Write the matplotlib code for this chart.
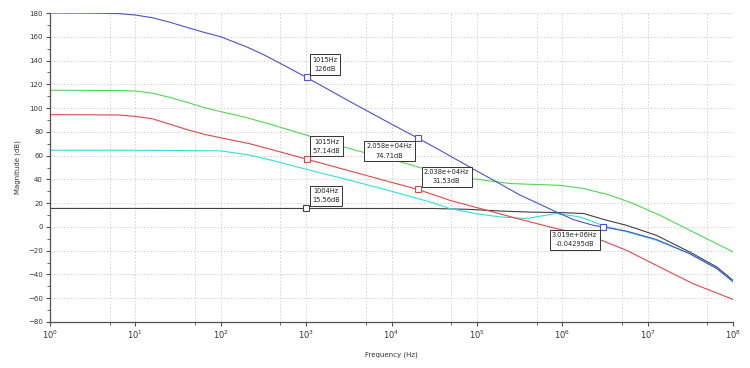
import numpy as np
import matplotlib
matplotlib.use("Agg")
import matplotlib.pyplot as plt
from matplotlib.ticker import FixedLocator, MultipleLocator, NullFormatter, LogFormatterMathtext

# curves: log10(frequency) and magnitude in dB
blue_exp = [0.0, 0.5, 0.8, 1.0, 1.2, 1.4, 1.6, 1.8, 2.0, 2.3, 2.5, 2.7, 3.0, 3.5, 4.0, 4.31,
            4.6, 5.0, 5.23, 5.5, 5.93, 6.13, 6.36, 6.48, 6.75, 7.1, 7.49, 7.81, 8.0]
blue_db = [180.0, 179.9, 179.5, 178.3, 176.0, 172.3, 168.0, 163.8, 160.0, 151.6, 145.0, 137.5,
           126.0, 106.0, 86.5, 74.7, 63.2, 47.0, 37.9, 27.0, 12.6, 6.2, 1.4, 0.0, -3.5, -10.5,
           -22.4, -35.0, -46.0]

green_exp = [0.0, 0.8, 1.0, 1.2, 1.4, 1.6, 1.8, 2.0, 2.3, 2.6, 3.0, 3.5, 4.1, 4.5, 4.92,
             5.39, 5.97, 6.25, 6.56, 6.83, 7.14, 7.53, 8.0]
green_db = [115.0, 114.8, 114.4, 112.5, 109.0, 105.0, 100.5, 97.0, 92.0, 86.0, 77.3, 66.0,
            54.8, 46.5, 40.8, 36.5, 35.0, 32.3, 26.7, 19.7, 9.9, -4.2, -21.0]

red_exp = [0.0, 0.8, 1.0, 1.2, 1.4, 1.6, 1.8, 2.0, 2.34, 2.6, 3.0, 3.5, 4.0, 4.31, 4.7,
           5.19, 5.5, 5.93, 6.36, 6.75, 7.14, 7.53, 8.0]
red_db = [94.5, 94.2, 93.0, 91.0, 86.5, 82.0, 78.0, 75.0, 70.0, 65.0, 57.1, 47.3, 37.5,
          31.5, 22.0, 12.6, 6.5, -1.4, -8.4, -19.6, -33.7, -47.7, -61.0]

cyan_exp = [0.0, 1.0, 2.0, 2.34, 2.6, 3.0, 3.5, 4.0, 4.5, 4.68, 5.0, 5.27, 5.58, 5.93, 6.21,
            6.5, 6.75, 7.1, 7.49, 7.81, 8.0]
cyan_db = [64.5, 64.5, 64.0, 60.4, 56.0, 48.5, 39.5, 30.0, 20.0, 15.5, 11.0, 8.4, 7.1, 11.3,
           8.4, 0.6, -4.0, -11.2, -22.4, -35.0, -46.0]

black_exp = [0.0, 4.5, 4.9, 5.3, 5.66, 5.97, 6.25, 6.5, 6.75, 7.1, 7.49, 7.81, 8.0]
black_db = [15.56, 15.5, 14.8, 13.3, 12.4, 12.1, 11.3, 6.0, 1.4, -7.0, -21.0, -33.7, -45.0]

x_decades = [0, 1, 2, 3, 4, 5, 6, 7, 8]

# datatips: frequency, dB, label, colour, placement
tip_freq = [1015, 1015, 1004, 2.058e4, 2.038e4, 3.019e6]
tip_db = [126.0, 57.14, 15.56, 74.71, 31.53, -0.04295]
tip_text = ["1015Hz\n126dB", "1015Hz\n57.14dB", "1004Hz\n15.56dB",
            "2.058e+04Hz\n74.71dB", "2.038e+04Hz\n31.53dB", "3.019e+06Hz\n-0.04295dB"]
tip_color = ["#4f4fd8", "#e04848", "#404040", "#4f4fd8", "#e04848", "#4f4fd8"]
tip_side = ["ur", "ur", "ur", "ll", "ur", "ll"]

fig = plt.figure(figsize=(7.5, 3.68), dpi=100)
ax = fig.add_axes([50 / 750, 1 - 322 / 368, 683 / 750, 309 / 368])

curves = [
    (black_exp, black_db, "#404040"),
    (cyan_exp, cyan_db, "#30e0e0"),
    (red_exp, red_db, "#e04848"),
    (green_exp, green_db, "#50d850"),
    (blue_exp, blue_db, "#4f4fd8"),
]
for ex, db, col in curves:
    ax.plot(10 ** np.array(ex), db, color=col, lw=0.8)

ax.set_xscale("log")
ax.set_xlim(1, 1e8)
ax.set_ylim(-80, 180)

ax.xaxis.set_major_locator(FixedLocator([10.0 ** k for k in x_decades]))
ax.xaxis.set_major_formatter(LogFormatterMathtext())
ax.xaxis.set_minor_locator(FixedLocator([5 * 10.0 ** k for k in x_decades[:-1]]))
ax.xaxis.set_minor_formatter(NullFormatter())
ax.yaxis.set_major_locator(MultipleLocator(20))
ax.yaxis.set_minor_locator(MultipleLocator(10))

grid_kw = dict(color="#cfcfcf", linestyle=(0, (2, 2)), linewidth=0.6)
ax.grid(True, which="major", axis="both", **grid_kw)
ax.grid(True, which="minor", axis="x", **grid_kw)
ax.set_axisbelow(True)

for s in ["top", "right"]:
    ax.spines[s].set_visible(False)
for s in ["left", "bottom"]:
    ax.spines[s].set_color("#505050")
    ax.spines[s].set_linewidth(0.9)

ax.tick_params(which="major", direction="out", length=3, width=0.8, color="#505050",
               labelsize=5, labelcolor="#333333", pad=2)
ax.tick_params(which="minor", direction="out", length=2, width=0.6, color="#505050")
ax.tick_params(axis="x", which="major", labelsize=6, pad=2)

ax.set_xlabel("Frequency (Hz)", fontsize=5, color="#333333", labelpad=7)
ax.set_ylabel("Magnitude (dB)", fontsize=5, color="#333333", labelpad=5)

for f, d, txt, col, side in zip(tip_freq, tip_db, tip_text, tip_color, tip_side):
    ax.plot(f, d, marker="s", ms=4, mfc="white", mec=col, mew=0.8, zorder=5)
    if side == "ur":
        off, ha, va = (6, 5), "left", "bottom"
    else:
        off, ha, va = (-6, -5), "right", "top"
    ax.annotate(txt, (f, d), xytext=off, textcoords="offset pixels", ha=ha, va=va,
                fontsize=4.8, color="#222222", multialignment="center", linespacing=1.7,
                bbox=dict(boxstyle="square,pad=0.35", fc="white", ec="#333333", lw=0.7),
                zorder=6)

fig.savefig("out.png", dpi=100)
